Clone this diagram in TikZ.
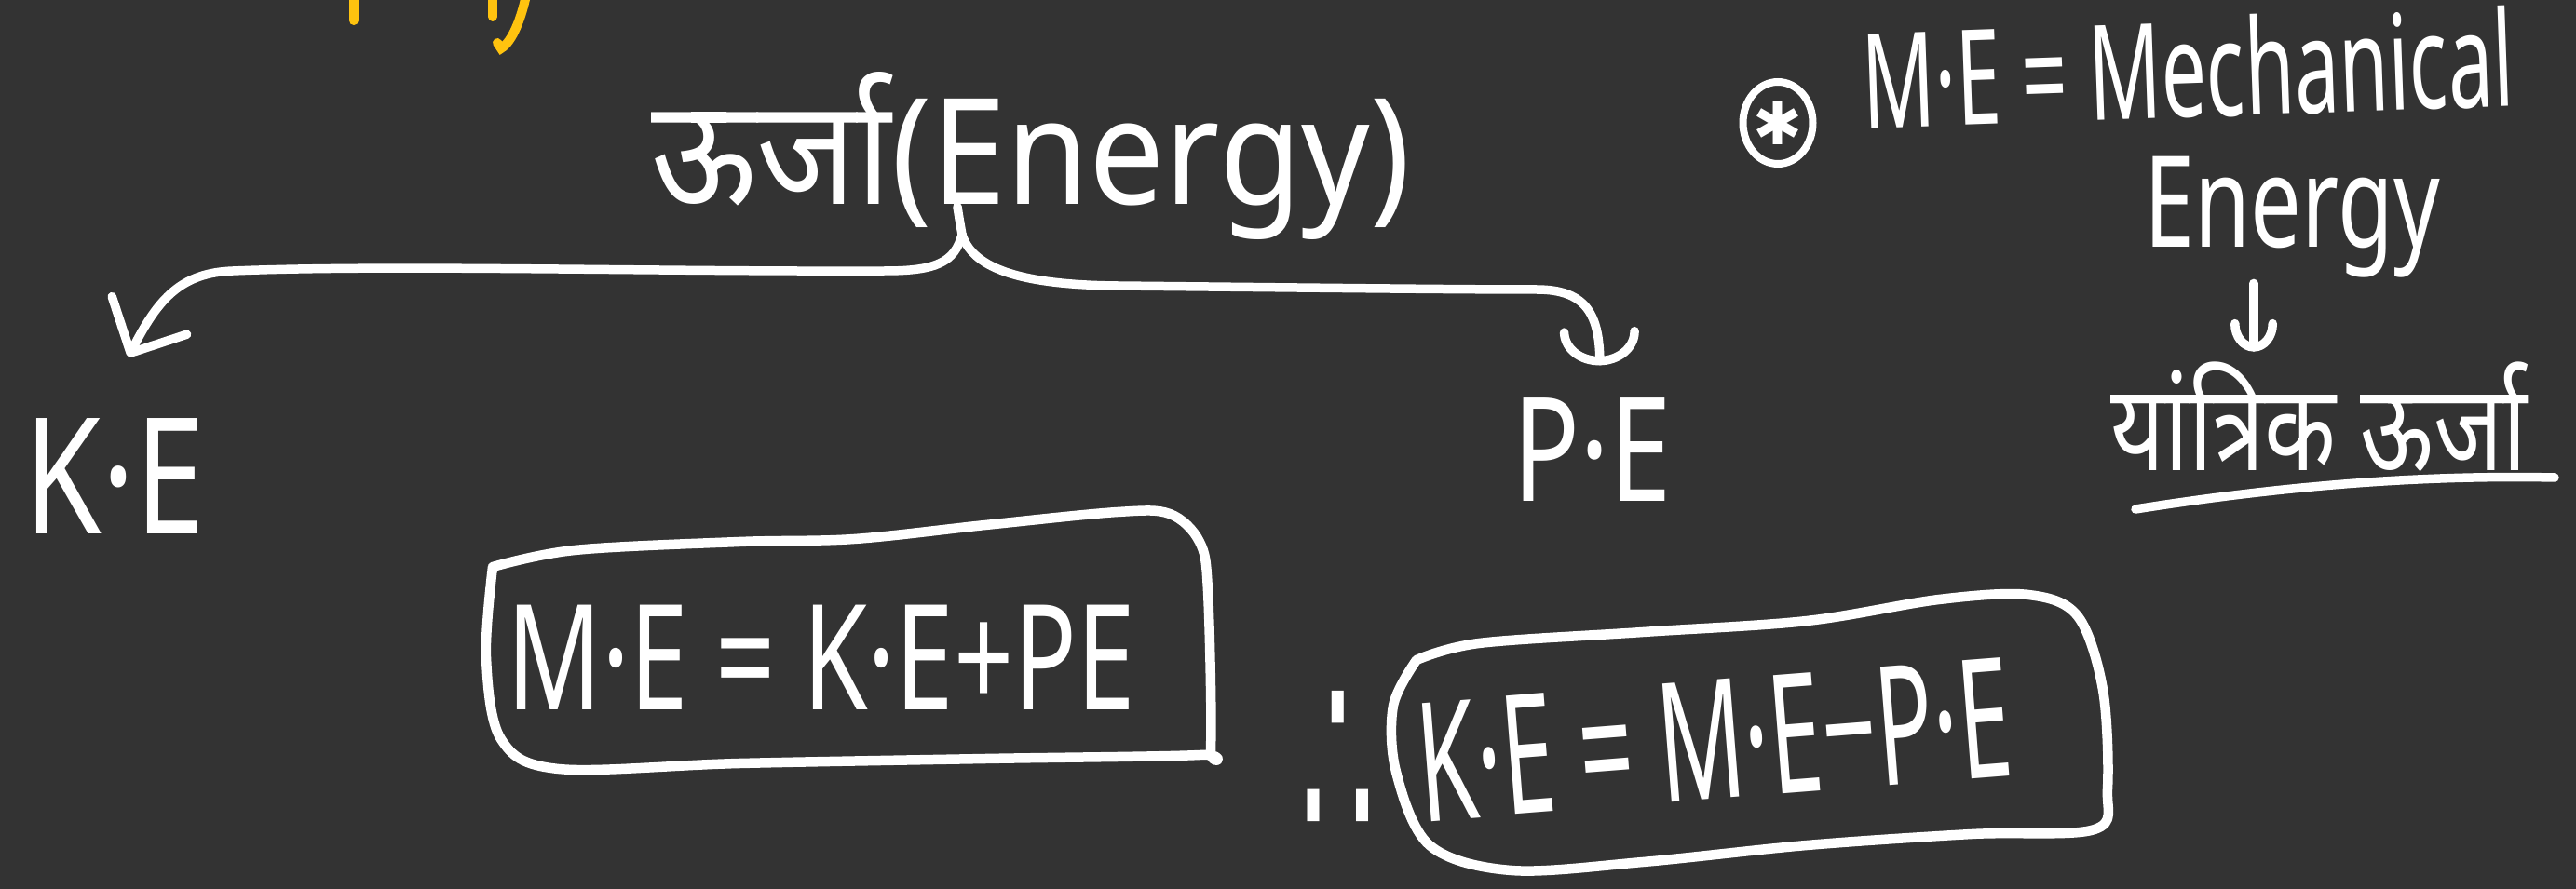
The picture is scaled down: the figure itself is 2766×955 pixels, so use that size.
\documentclass[tikz,border=0pt]{standalone}
\usepackage{fontspec}
\usepackage{graphicx}
\setmainfont{Noto Sans}
\newfontfamily\hindi[Script=Devanagari]{Noto Sans}
\newfontfamily\dejavu{DejaVu Sans}
\usetikzlibrary{arrows.meta,shapes.geometric,calc}
\definecolor{bgc}{RGB}{51,51,51}
\definecolor{ylw}{RGB}{255,195,15}
\newcommand{\tallr}[2]{\scalebox{1}[#1]{#2}}
\begin{document}
\begin{tikzpicture}[x=0.1mm,y=-0.1mm,
  txt/.style={text=white, inner sep=0pt, anchor=base},
  ink/.style={draw=white, line width=0.95mm, line cap=round, line join=round},
  vbarb/.style={-{Straight Barb[length=4.5mm,width=9mm,round]}},
  barb/.style={-{Arc Barb[length=3.6mm,width=8.5mm,round]}},
  smallbarb/.style={-{Arc Barb[length=3mm,width=5mm,round]}}]
\fill[bgc] (0,0) rectangle (2766,955);
\useasboundingbox (0,0) rectangle (2766,955);
\clip (0,0) rectangle (2766,955);
% yellow fragments of cut-off text
\draw[ylw, line width=1mm, line cap=round] (380,-10) -- (380,22);
\draw[ylw, line width=1mm, line cap=round] (529,-10) -- (529,18);
\draw[ylw, line width=1mm, line cap=round] (566,-10) .. controls (560,20) and (550,45) .. (538,52) -- (534,46);
% texts
\node[txt] (title) at (1107,220) {\fontsize{41}{41}\selectfont\tallr{1.1}{{\hindi ऊर्जा}(Energy)}};
\node[txt] (ke) at (123,573) {\fontsize{38}{38}\selectfont\tallr{1.3}{K·E}};
\node[txt] (pe) at (1710,538) {\fontsize{34}{34}\selectfont\tallr{1.3}{P·E}};
\node[txt] (eq1) at (882,762) {\fontsize{32}{32}\selectfont\tallr{1.4}{M·E = K·E+PE}};
\node[txt, rotate=4.5] (eq2) at (1846,858) {\fontsize{29}{29}\selectfont\tallr{1.75}{K·E = M·E−P·E}};
\node[text=white, inner sep=0pt] (therefore) at (1437,826) {\dejavu\fontsize{36}{36}\selectfont\tallr{2.2}{∴}};
\node[draw=white, line width=0.8mm, ellipse, minimum width=6.2mm, minimum height=8.8mm, inner sep=0pt, text=white] (star) at (1909,132) {\dejavu\fontsize{18}{18}\selectfont ✱};
\node[txt, rotate=2] (medef) at (2351,126) {\fontsize{24.5}{24.5}\selectfont\tallr{1.65}{M·E = Mechanical}};
\node[txt] (energyR) at (2461,266) {\fontsize{27.7}{27.7}\selectfont\tallr{1.4}{Energy}};
\node[txt] (yantrik) at (2490,505) {\hindi\fontsize{28.5}{28.5}\selectfont\tallr{1.3}{यांत्रिक ऊर्जा}};
% brace connectors
\coordinate (brtop) at (1028,222);
\coordinate (split) at (1033,252);
\draw[ink] (brtop) .. controls (1030,235) .. (split);
\draw[ink, vbarb] (split) .. controls (1025,282) and (1005,291) .. (950,291) .. controls (700,292) and (420,284) .. (250,291) .. controls (195,293) and (170,320) .. ([shift={(15,-65)}]ke.north);
\draw[ink, barb] (split) .. controls (1045,290) and (1100,306) .. (1200,307) .. controls (1400,309) and (1560,311) .. (1650,311) .. controls (1705,311) and (1717,340) .. ([shift={(8,-34)}]pe.north);
% arrow Energy -> yantrik
\coordinate (ax) at (2420,0);
\draw[ink, smallbarb] ([yshift=-0.5mm]energyR.south -| ax) -- ([yshift=1mm]yantrik.north -| ax);
% underline
\draw[ink] (2293,547) .. controls (2450,522) and (2600,510) .. (2743,513);
% boxes
\draw[ink, line width=1.05mm] plot[smooth, tension=0.55] coordinates {(529,609) (617,591) (794,582) (917,579) (1058,564) (1200,550) (1256,552) (1288,582) (1297,635) (1300,803) (1288,811) (1058,815) (794,820) (600,826) (538,794) (522,706) (529,609)};
\draw[ink, line width=1.05mm] plot[smooth, tension=0.55] coordinates {(1521,709) (1588,691) (1764,679) (1940,667) (2082,644) (2178,639) (2231,662) (2258,741) (2263,847) (2249,891) (2117,896) (1940,908) (1764,926) (1623,935) (1535,908) (1499,829) (1496,758) (1521,709)};
\end{tikzpicture}
\end{document}
